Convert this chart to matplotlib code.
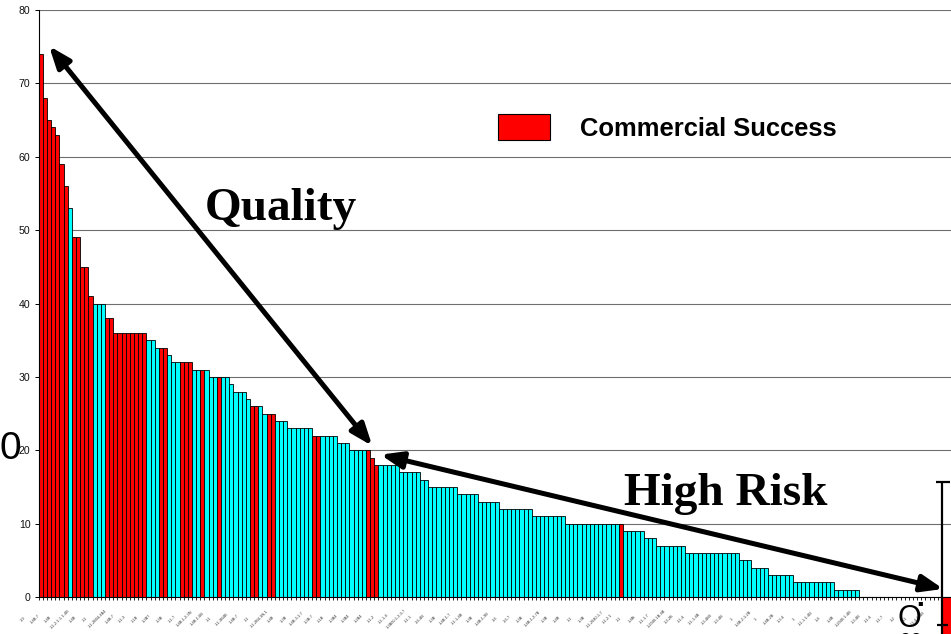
import numpy as np
import matplotlib
matplotlib.use("Agg")
import matplotlib.pyplot as plt
import matplotlib.transforms as mtransforms
from matplotlib.patches import Patch
from matplotlib.font_manager import FontProperties

# Score per project, ranked from highest to lowest
scores = [
    74, 68, 65, 64, 63, 59, 56, 53, 49, 49, 45, 45, 41, 40, 40, 40,
    38, 38, 36, 36, 36, 36, 36, 36, 36, 36, 35, 35, 34, 34, 34, 33,
    32, 32, 32, 32, 32, 31, 31, 31, 31, 30, 30, 30, 30, 30, 29,
    28, 28, 28, 27, 26, 26, 26, 25, 25, 25, 24, 24, 24,
    23, 23, 23, 23, 23, 23, 22, 22, 22, 22, 22, 22, 21, 21, 21,
    20, 20, 20, 20, 20, 19, 18, 18, 18, 18, 18, 18,
    17, 17, 17, 17, 17, 16, 16, 15, 15, 15, 15, 15, 15, 15,
    14, 14, 14, 14, 14, 13, 13, 13, 13, 13,
    12, 12, 12, 12, 12, 12, 12, 12, 11, 11, 11, 11, 11, 11, 11, 11,
    10, 10, 10, 10, 10, 10, 10, 10, 10, 10, 10, 10, 10, 10,
    9, 9, 9, 9, 9, 8, 8, 8, 7, 7, 7, 7, 7, 7, 7,
    6, 6, 6, 6, 6, 6, 6, 6, 6, 6, 6, 6, 6, 5, 5, 5, 4, 4, 4, 4,
    3, 3, 3, 3, 3, 3, 2, 2, 2, 2, 2, 2, 2, 2, 2, 2,
    1, 1, 1, 1, 1, 1,
    0, 0, 0, 0, 0, 0, 0, 0, 0, 0, 0, 0, 0, 0, 0, 0, 0, 0, 0, 0,
    -6,
]

# Ranks (1-based) of the projects that were a commercial success
commercial_ranks = [1, 2, 3, 4, 5, 6, 7, 9, 10, 11, 12, 13,
                    17, 18, 19, 20, 21, 22, 23, 24, 25, 26,
                    30, 31, 35, 36, 37, 40, 44, 52, 53, 56, 57,
                    67, 68, 80, 81, 82, 141, 219]

# Project codes shown along the category axis (every third project)
project_codes = [
    "1-9", "1-4B-7", "1-4B", "1-1-2-1-1-1-4B", "1-4B", "1-1", "1-1-2B04-4B4",
    "1-4B-7", "1-1-3", "1-1B", "1-3B7", "1-3B", "1-1-7", "1-4B-1-2-3N",
    "1-4B-1-0B", "1-1", "1-1-3B4B", "1-4B-7", "1-1", "1-1-2B4-3N-1", "1-4B",
    "1-3B", "1-4B-3-1-7", "1-3B-7", "1-1B", "1-3B4", "1-3B4", "1-2B4",
    "1-1-2", "1-1-1-4", "1-3B00-1-2-3-7", "1-1-1", "1-6-4B", "1-3B",
    "1-4B-1-7", "1-1-1-4B", "1-3B", "1-4B-1-3B", "1-6", "1-6-7", "1-3B",
    "1-4B-1-2-7B", "1-3B", "1-4B", "1-1", "1-3B", "1-1-2040-1-7", "1-1-2-1",
    "1-1", "1-4Bi", "1-1-1-7", "1-2040-1B-4B", "1-3-2B", "1-1-4", "1-1-1-4B",
    "1-3-4B0", "1-3-4B", "1", "1-4B-2-1-2B", "1", "1-4B-2B", "1-3-4",
    "1", "1-1-1-1-4B", "1-4", "1-4B", "1-2040-1-4B", "1-3-4B", "1-1-4",
    "1-1-7", "1-2", "1-1", "1-1-4-1-4B",
]

# Stray error-bar marker at the right end of the axis
marker_top = 15.7
marker_caps = [15.7, -3.8]
marker_bottom = -7.0

values = np.array(scores, dtype=float)
n = len(values)
idx = np.arange(n)
is_commercial = np.isin(idx + 1, commercial_ranks)

RED = "#FF0000"
CYAN = "#00FFFF"

W, H = 951, 634
fig = plt.figure(figsize=(W / 100, H / 100), dpi=100)
ax_left, ax_bottom = 38.67, 37.0
ax = fig.add_axes([ax_left / W, ax_bottom / H, (W - ax_left) / W, 587.0 / H])

pitch_px = 4.144
ax.set_xlim(-0.5, -0.5 + (W - ax_left) / pitch_px)
ax.set_ylim(0, 80)

# Regular bars share one width; the negative tail bar is wider
widths = np.where(values < 0, 2.2, 1.0)
colors = np.where(is_commercial, RED, CYAN)
bars = ax.bar(idx - 0.5, values, width=widths, align="edge",
              color=colors, edgecolor="black", linewidth=0.6, zorder=2)
for b, v in zip(bars, values):
    if v < 0:
        b.set_clip_on(False)

# Axes styling
ax.set_yticks(np.arange(0, 81, 10))
ax.yaxis.grid(True, color="#6e6e6e", linewidth=0.8)
ax.set_axisbelow(True)
for side in ("top", "right"):
    ax.spines[side].set_visible(False)
ax.spines["left"].set_linewidth(0.8)
ax.spines["bottom"].set_linewidth(0.8)
ax.spines["bottom"].set_zorder(3)
ax.tick_params(axis="y", direction="out", length=3, width=0.7, pad=3,
               labelsize=7.6, labelcolor="#111111")
for lab in ax.get_yticklabels():
    lab.set_fontfamily("Liberation Sans")

ax.set_xticks(np.arange(-0.5, 218.0, 1.0))
ax.set_xticklabels([])
ax.tick_params(axis="x", direction="out", length=2.2, width=0.6, color="black")

# Tiny rotated project codes under the axis
label_pos = idx[::3][:len(project_codes)]
lab_off = mtransforms.ScaledTranslation(-0.18, -0.22, fig.dpi_scale_trans)
for pos, code in zip(label_pos, project_codes):
    ax.text(pos, 0, code, transform=ax.get_xaxis_transform() + lab_off,
            rotation=45, ha="center", va="center", fontsize=2.8,
            color="#333333", family="Liberation Sans", clip_on=False)

# Legend
leg = ax.legend(handles=[Patch(facecolor=RED, edgecolor="black", linewidth=0.8)],
                labels=["Commercial Success"], loc="center left",
                bbox_to_anchor=(498 / W, 1 - 127.5 / H),
                bbox_transform=fig.transFigure, frameon=False,
                prop=FontProperties(family="Liberation Sans", weight="bold", size=18.4),
                handlelength=2.03, handleheight=1.21, handletextpad=1.17,
                borderpad=0, borderaxespad=0)

# Double-headed trend arrows
arrow_style = dict(arrowstyle="<|-|>,head_length=1.3,head_width=0.5",
                   mutation_scale=10, lw=3.6, color="black",
                   shrinkA=0, shrinkB=0)
ax.annotate("", xy=(2.0, 75.1), xytext=(80.0, 20.6),
            arrowprops=arrow_style, annotation_clip=False, zorder=5)
ax.annotate("", xy=(82.0, 19.4), xytext=(217.8, 1.1),
            arrowprops=arrow_style, annotation_clip=False, zorder=5)

serif_bold = dict(family="Liberation Serif", weight="bold", fontsize=34,
                  ha="center", va="baseline", zorder=6)
ax.text(57.98, 51.4, "Quality", **serif_bold)
ax.text(165.2, 12.54, "High Risk", **serif_bold)

# Stray marker at the right edge
mx = 217.6
ax.vlines(mx, marker_bottom, marker_top, colors="black", linewidth=1.6,
          clip_on=False, zorder=6)
ax.hlines(marker_caps[0], mx - 1.6, mx + 1.9, colors="black", linewidth=1.6,
          clip_on=False, zorder=6)
ax.hlines(marker_caps[1], mx - 1.4, mx + 1.4, colors="black", linewidth=1.6,
          clip_on=False, zorder=6)

# Loose glyphs around the frame
fig.text(10 / W, 1 - 449 / H, "0", fontsize=28, family="Liberation Sans",
         ha="center", va="center", color="black")
fig.text(909 / W, 1 - 619 / H, "O", fontsize=22, family="Liberation Sans",
         ha="center", va="center", color="black")
fig.text(920 / W, 1 - 603 / H, "\u25aa", fontsize=6, family="DejaVu Sans",
         ha="center", va="center", color="black")
fig.text(911 / W, 1 - 640 / H, "\u221e", fontsize=24, family="DejaVu Sans",
         weight="bold", ha="center", va="center", color="black")

fig.savefig("out.png", dpi=100)
